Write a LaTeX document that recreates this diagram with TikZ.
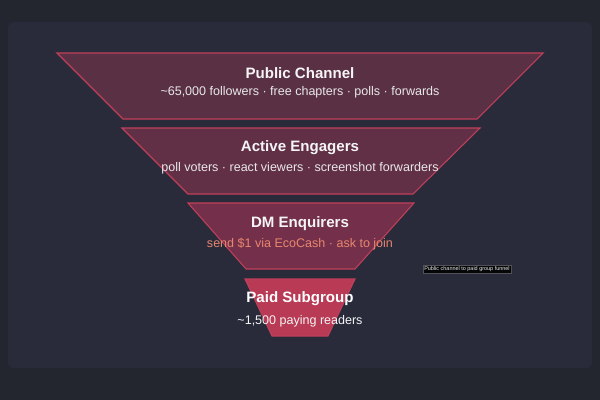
\documentclass[tikz,border=0pt]{standalone}
\usepackage{fontspec}
\setmainfont{Liberation Sans}
\usetikzlibrary{positioning}
\definecolor{bgdark}{HTML}{23252F}
\definecolor{panel}{HTML}{292B3B}
\definecolor{edge}{HTML}{C0405A}
\definecolor{salmon}{HTML}{E8866E}
\begin{document}
\begin{tikzpicture}[x=0.75pt, y=-0.75pt]
  \tikzstyle{stage}=[draw=edge, line width=0.8pt]
  \tikzstyle{title}=[font=\bfseries\fontsize{11.3}{13}\selectfont, text=white!92!gray]
  \tikzstyle{sub}=[font=\fontsize{9.4}{11}\selectfont, text=white!82!gray]

  % Fond
  \fill[bgdark] (0,0) rectangle (600,400);
  \useasboundingbox (0,0) rectangle (600,400);
  \fill[panel, rounded corners=4pt] (8,22) rectangle (592,368);

  % Etages
  \draw[stage, fill={rgb,255:red,90;green,48;blue,68}] (57,53) -- (543,53) -- (477,119) -- (123,119) -- cycle;
  \draw[stage, fill={rgb,255:red,98;green,48;blue,70}] (122,128) -- (480,128) -- (413,194) -- (188,194) -- cycle;
  \draw[stage, fill={rgb,255:red,116;green,48;blue,74}] (188,203) -- (414,203) -- (355,269) -- (246,269) -- cycle;
  \draw[stage, fill={rgb,255:red,184;green,58;blue,85}] (245,279) -- (355,279) -- (328,336) -- (272,336) -- cycle;

  % Textes
  \node[title] (t1) at (300,73) {Public Channel};
  \node[sub] (s1) at (300,92) {\textasciitilde65,000 followers · free chapters · polls · forwards};
  \node[title] (t2) at (300,148) {Active Engagers};
  \node[sub] (s2) at (300,168) {poll voters · react viewers · screenshot forwarders};
  \node[title] (t3) at (300,224) {DM Enquirers};
  \node[sub, text=salmon] (s3) at (300,244) {send \$1 via EcoCash · ask to join};
  \node[title, text=white] (t4) at (300,299) {Paid Subgroup};
  \node[sub, text=white!92!gray] (s4) at (300,321) {\textasciitilde1,500 paying readers};

  % Infobulle
  \node[fill=black!85!bgdark, draw=gray!50!bgdark, line width=0.3pt, inner sep=1.2pt,
        font=\fontsize{4.1}{5}\selectfont, text=white!85!gray] (tip) at (467,269) {Public channel to paid group funnel};
\end{tikzpicture}
\end{document}
